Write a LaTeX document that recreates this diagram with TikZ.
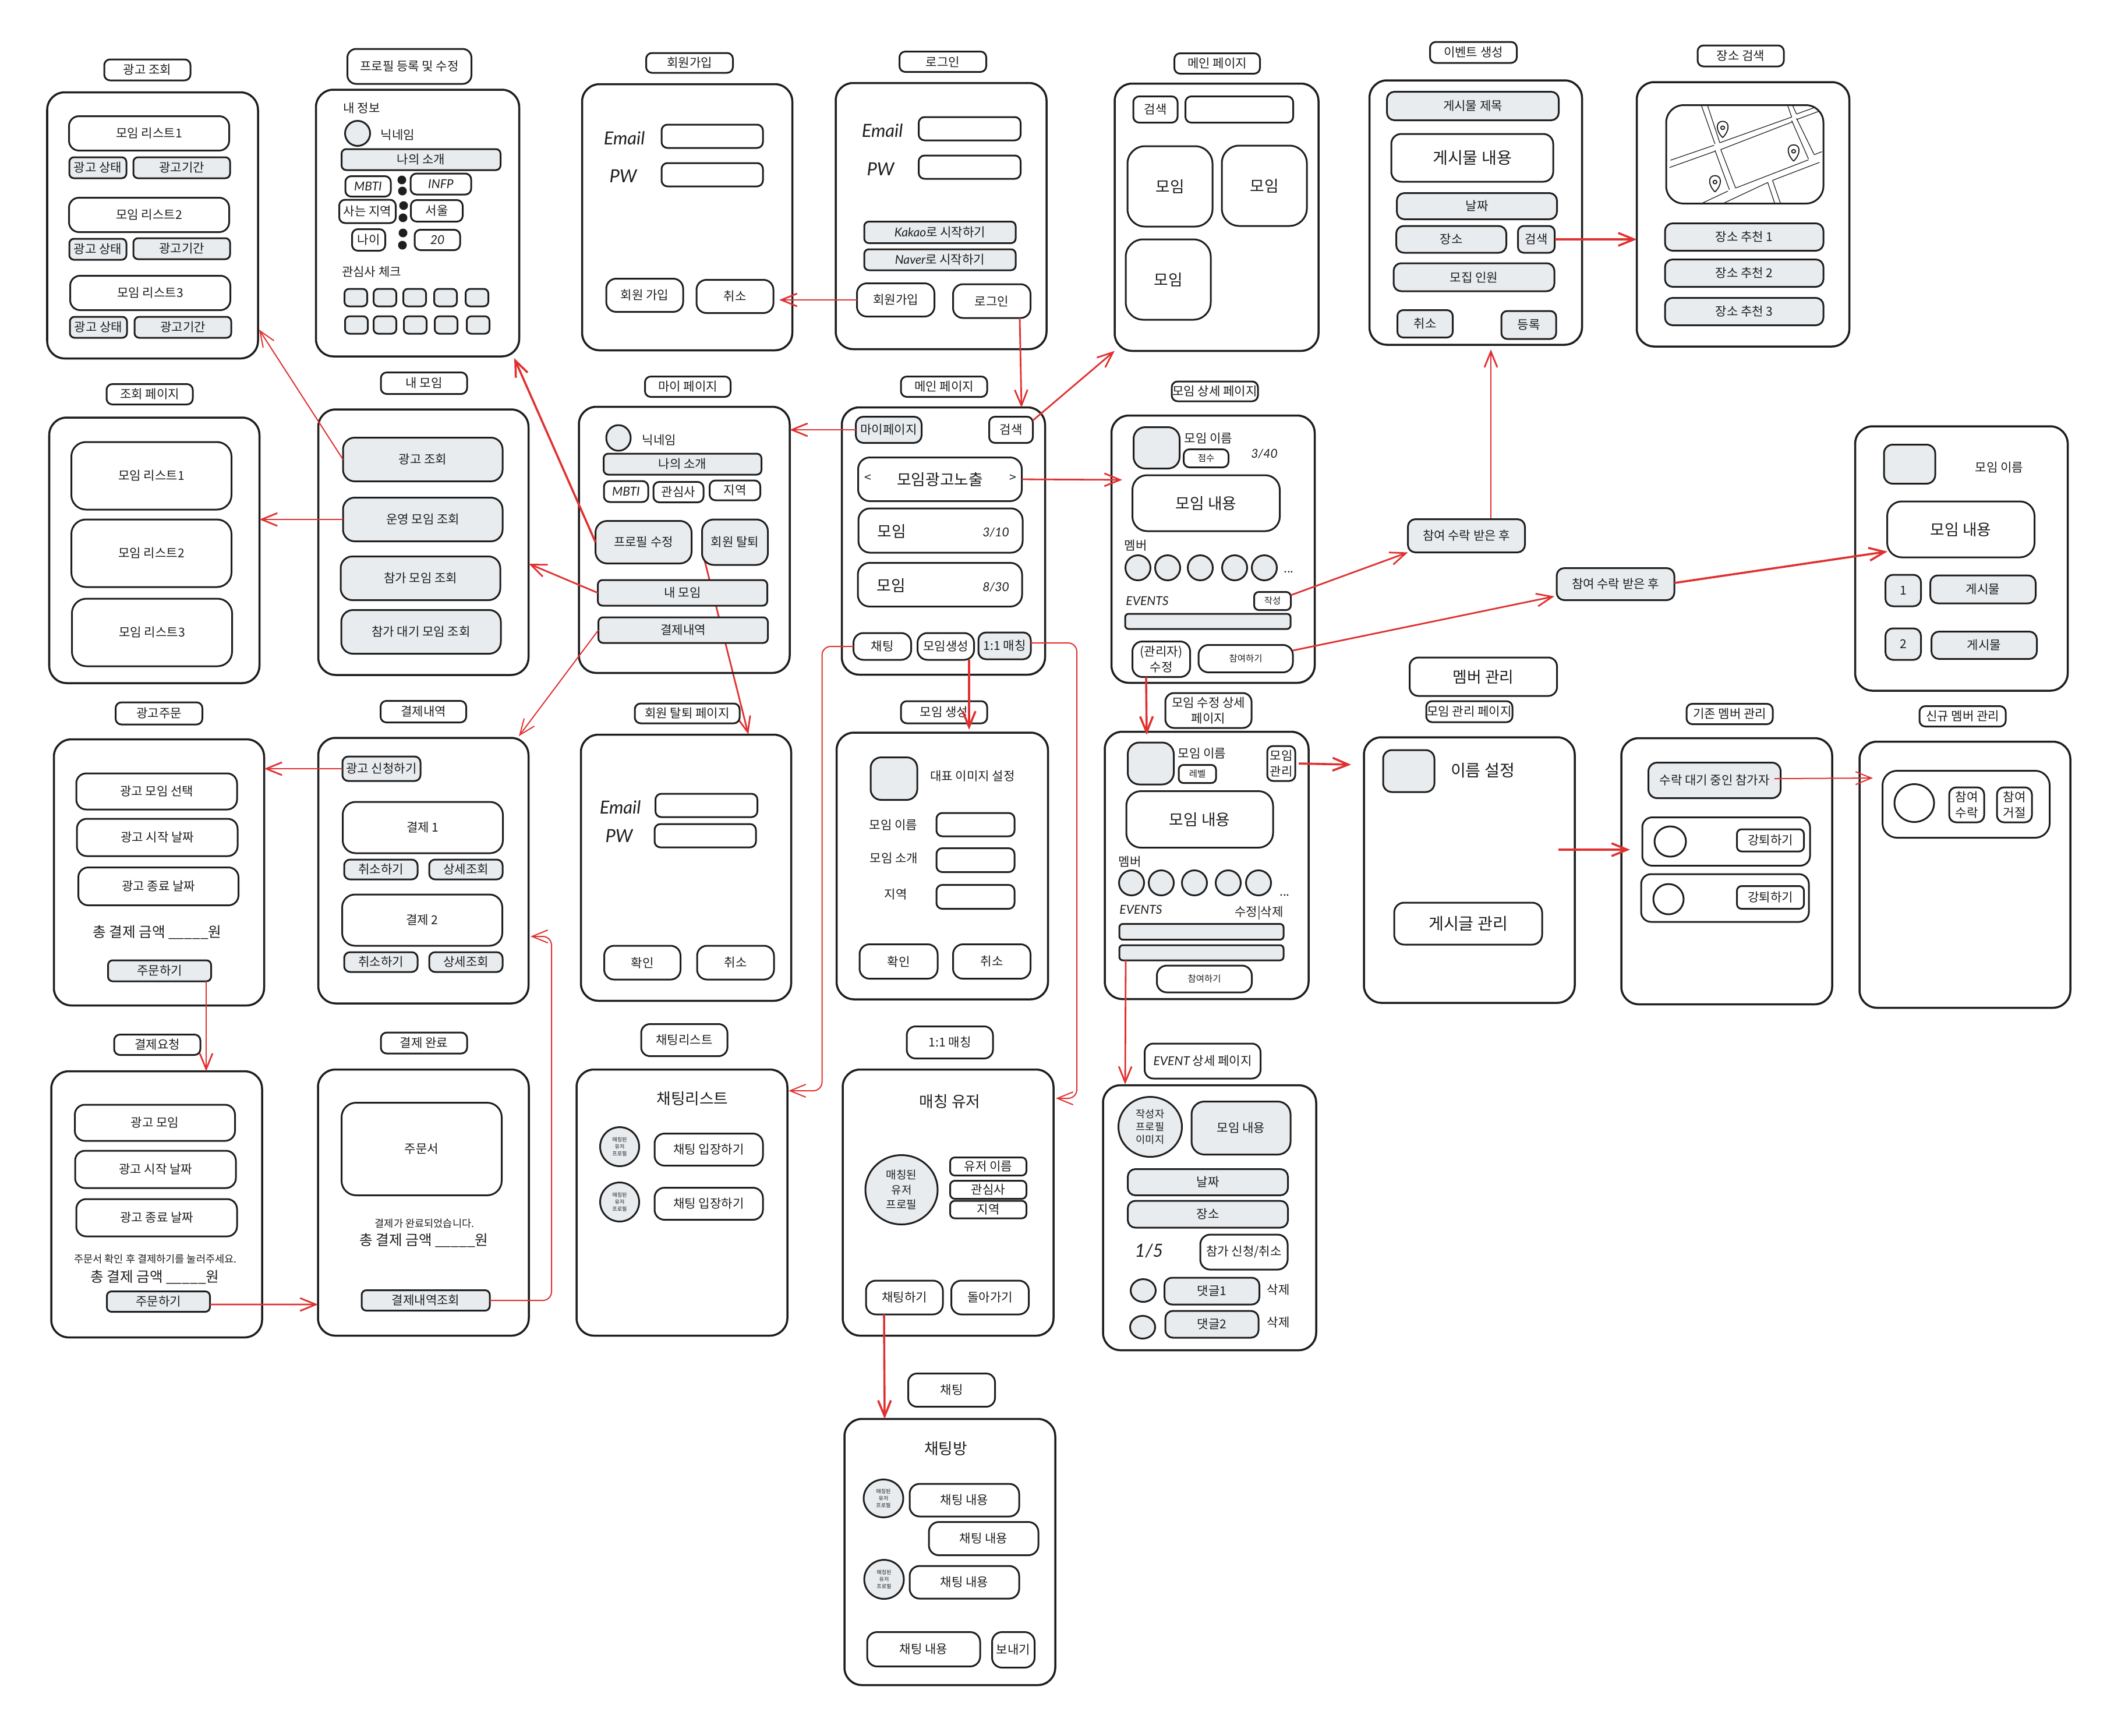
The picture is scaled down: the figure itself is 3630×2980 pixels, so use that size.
\documentclass[tikz,border=0pt]{standalone}
\usepackage{fontspec}
\setmainfont{Noto Sans CJK KR}
\newfontfamily\handfont{Lato}
\usepackage{tikz}
\usetikzlibrary{shapes.geometric,arrows.meta,backgrounds}
\definecolor{wireInk}{RGB}{30,30,30}
\definecolor{wireGray}{RGB}{233,236,239}
\definecolor{wireRed}{RGB}{224,49,49}
\newcommand{\hnd}[1]{{\handfont\itshape #1}}
\tikzset{
  sz/.style 2 args={minimum width=#1*0.01cm,minimum height=#2*0.01cm},
  base/.style={draw=wireInk,line width=0.03cm,inner sep=0pt,outer sep=0pt,align=center,text=wireInk},
  screen/.style={base,rounded corners=0.3cm,line width=0.035cm},
  tagbox/.style={base,fill=white,rounded corners=0.1cm},
  plainbtn/.style={base,fill=white,rounded corners=0.17cm},
  graybtn/.style={base,fill=wireGray,rounded corners=0.13cm},
  grayball/.style={base,ellipse,fill=wireGray},
  whiteball/.style={base,ellipse,fill=white},
  dotmark/.style={circle,fill=wireInk,inner sep=0pt,minimum size=0.15cm},
  lbl/.style={inner sep=0pt,text=wireInk,align=center},
  fsMicro/.style={font=\fontsize{2.6}{3.4}\selectfont},
  fsTiny/.style={font=\fontsize{4.4}{5.6}\selectfont},
  fsNote/.style={font=\fontsize{5}{6.2}\selectfont},
  fsSum/.style={font=\fontsize{7}{8.8}\selectfont},
  fsMid/.style={font=\fontsize{7.6}{9.4}\selectfont},
  fsBig/.style={font=\fontsize{8}{10}\selectfont},
  fsHand/.style={font=\fontsize{8.8}{10}\selectfont},
  link/.style={draw=wireRed,line width=0.028cm,-{Straight Barb[length=0.27cm,width=0.22cm]}},
  thinlink/.style={link,line width=0.02cm},
  heavylink/.style={link,line width=0.036cm},
}
\begin{document}
\begin{tikzpicture}[x=0.01cm,y=-0.01cm,font=\fontsize{6}{7.6}\selectfont]
\useasboundingbox (0,0) rectangle (3630,2980);
% Ad list
\node[tagbox,sz={148}{36}] (tagAd) at (253,120) {광고 조회};
\node[screen,sz={362}{457}] (frameAd) at (262,387) {};
\node[plainbtn,sz={275}{59}] (adItemA) at (256,229) {모임 리스트1};
\node[graybtn,rounded corners=0.08cm,sz={98}{36}] (adStateA) at (168,288) {광고 상태};
\node[graybtn,rounded corners=0.08cm,sz={166}{36}] (adTermA) at (312,288) {광고기간};
\node[plainbtn,sz={275}{59}] (adItemB) at (256,369) {모임 리스트2};
\node[graybtn,rounded corners=0.08cm,sz={98}{36}] (adStateB) at (168,428) {광고 상태};
\node[graybtn,rounded corners=0.08cm,sz={166}{36}] (adTermB) at (312,427) {광고기간};
\node[plainbtn,sz={275}{59}] (adItemC) at (258,503) {모임 리스트3};
\node[graybtn,rounded corners=0.08cm,sz={98}{36}] (adStateC) at (169,562) {광고 상태};
\node[graybtn,rounded corners=0.08cm,sz={166}{36}] (adTermC) at (314,562) {광고기간};
% Profile form
\node[tagbox,rounded corners=0.15cm,sz={213}{60}] (tagProfile) at (703,114) {프로필 등록 및 수정};
\node[screen,sz={349}{458}] (frameProfile) at (717,383) {};
\node[lbl] (profileHead) at (621,186) {내 정보};
\node[grayball,sz={43}{43}] (profileFace) at (614,229) {};
\node[lbl] (profileNick) at (683,232) {닉네임};
\node[graybtn,rounded corners=0.08cm,sz={273}{36}] (profileIntro) at (723,274) {나의 소개};
\node[plainbtn,rounded corners=0.1cm,sz={78}{35}] (keyMbti) at (632,320) {\hnd{MBTI}};
\node[plainbtn,rounded corners=0.1cm,sz={104}{36}] (valMbti) at (757,316) {\hnd{INFP}};
\node[plainbtn,rounded corners=0.1cm,sz={97}{40}] (keyArea) at (631,363) {사는 지역};
\node[plainbtn,rounded corners=0.1cm,sz={89}{37}] (valArea) at (750,362) {서울};
\node[plainbtn,rounded corners=0.1cm,sz={57}{37}] (keyAge) at (633,412) {나이};
\node[plainbtn,rounded corners=0.1cm,sz={78}{35}] (valAge) at (751,412) {\hnd{20}};
\foreach \i/\cx/\cy in {1/690/309,2/691/328,3/693/353,4/692/374,5/692/400,6/691/421}
  \node[dotmark] (colon\i) at (\cx,\cy) {};
\node[lbl] (profileCheck) at (638,467) {관심사 체크};
\foreach \i/\cx in {1/611,2/661,3/712,4/765,5/819}
  \node[graybtn,rounded corners=0.08cm,sz={39}{30}] (chkA\i) at (\cx,511) {};
\foreach \i/\cx in {1/612,2/661,3/713,4/766,5/821}
  \node[graybtn,rounded corners=0.08cm,sz={39}{30}] (chkB\i) at (\cx,558) {};
% Sign up
\node[tagbox,sz={149}{34}] (tagJoin) at (1184,108) {회원가입};
\node[screen,sz={361}{457}] (frameJoin) at (1180,373) {};
\node[lbl,fsHand] (joinMail) at (1072,237) {\hnd{Email}};
\node[lbl,fsHand] (joinPw) at (1070,302) {\hnd{PW}};
\node[plainbtn,rounded corners=0.1cm,sz={174}{40}] (joinInA) at (1223,234) {};
\node[plainbtn,rounded corners=0.1cm,sz={174}{40}] (joinInB) at (1223,300) {};
\node[plainbtn,sz={132}{57}] (joinOk) at (1107,507) {회원 가입};
\node[plainbtn,sz={132}{57}] (joinCancel) at (1262,509) {취소};
% Log in
\node[tagbox,sz={149}{35}] (tagLogin) at (1619,106) {로그인};
\node[screen,sz={362}{457}] (frameLogin) at (1616,371) {};
\node[lbl,fsHand] (loginMail) at (1515,224) {\hnd{Email}};
\node[lbl,fsHand] (loginPw) at (1512,290) {\hnd{PW}};
\node[plainbtn,rounded corners=0.1cm,sz={175}{40}] (loginInA) at (1665,221) {};
\node[plainbtn,rounded corners=0.1cm,sz={175}{40}] (loginInB) at (1665,287) {};
\node[graybtn,rounded corners=0.08cm,sz={260}{37}] (btnKakao) at (1614,399) {\hnd{Kakao}로 시작하기};
\node[graybtn,rounded corners=0.08cm,sz={260}{36}] (btnNaver) at (1614,446) {\hnd{Naver}로 시작하기};
\node[plainbtn,sz={133}{57}] (loginJoin) at (1538,515) {회원가입};
\node[plainbtn,sz={133}{58}] (loginGo) at (1703,517) {로그인};
% Search page
\node[tagbox,sz={147}{35}] (tagSearch) at (2090,109) {메인 페이지};
\node[screen,sz={350}{459}] (frameSearch) at (2089,373) {};
\node[plainbtn,rounded corners=0.1cm,sz={76}{45}] (searchGo) at (1984,188) {검색};
\node[plainbtn,rounded corners=0.1cm,sz={185}{45}] (searchIn) at (2128,188) {};
\node[plainbtn,fsMid,rounded corners=0.3cm,sz={146}{138}] (meetA) at (2009,320) {모임};
\node[plainbtn,fsMid,rounded corners=0.3cm,sz={146}{138}] (meetB) at (2171,319) {모임};
\node[plainbtn,fsMid,rounded corners=0.3cm,sz={146}{138}] (meetC) at (2006,480) {모임};
% Event create
\node[tagbox,sz={149}{36}] (tagEvent) at (2530,90) {이벤트 생성};
\node[screen,sz={365}{454}] (frameEvent) at (2534,365) {};
\node[graybtn,sz={295}{49}] (evTitle) at (2529,182) {게시물 제목};
\node[plainbtn,fsBig,sz={278}{82}] (evBody) at (2528,271) {게시물 내용};
\node[graybtn,sz={275}{45}] (evDate) at (2536,354) {날짜};
\node[graybtn,sz={189}{46}] (evPlace) at (2492,411) {장소};
\node[graybtn,rounded corners=0.1cm,sz={63}{46}] (evFind) at (2638,411) {검색};
\node[graybtn,sz={276}{48}] (evCount) at (2531,476) {모집 인원};
\node[graybtn,rounded corners=0.1cm,sz={95}{47}] (evCancel) at (2447,556) {취소};
\node[graybtn,rounded corners=0.1cm,sz={94}{48}] (evSave) at (2625,558) {등록};
% Place search
\node[tagbox,sz={148}{36}] (tagPlace) at (2989,96) {장소 검색};
\node[screen,sz={365}{454}] (framePlace) at (2993,368) {};
\node[plainbtn,rounded corners=0.3cm,sz={270}{169}] (mapView) at (2996,265) {};
\begin{scope}[shift={(2340,60)},x=0.008227cm,y=-0.007334cm,draw=wireInk,line width=0.012cm]
  \begin{scope}
    \clip[rounded corners=0.3cm] (mapView.south west) rectangle (mapView.north east);
    \draw (705,160) -- (735,255) (718,160) -- (745,252) (735,270) -- (765,362) (747,268) -- (778,358);
    \draw (845,345) -- (860,395) (855,340) -- (872,395) (885,160) -- (895,192) (895,160) -- (905,185);
    \draw (895,200) -- (930,290) (905,195) -- (942,280);
    \draw (642,293) -- (733,258) (640,310) -- (735,272) (745,252) -- (895,192) (747,268) -- (897,203);
    \draw (905,185) -- (947,168) (905,198) -- (960,175) (778,358) -- (930,292);
    \draw (750,395) -- (845,345) (855,340) -- (953,298) (705,395) -- (762,365) (942,280) -- (958,273);
  \end{scope}
  \foreach \px/\py in {751/220,899/275,735/347} {
    \draw[fill=white,line width=0.018cm] (\px,\py+20) .. controls (\px-16,\py+2) and (\px-14,\py-18) .. (\px,\py-18) .. controls (\px+14,\py-18) and (\px+16,\py+2) .. (\px,\py+20);
    \draw[line width=0.018cm] (\px,\py-3) circle (4);
  }
\end{scope}
\node[graybtn,sz={272}{47}] (placeA) at (2995,407) {장소 추천 1};
\node[graybtn,sz={272}{47}] (placeB) at (2995,469) {장소 추천 2};
\node[graybtn,sz={272}{47}] (placeC) at (2995,535) {장소 추천 3};
% Meeting views
\node[tagbox,sz={148}{35}] (tagView) at (257,677) {조회 페이지};
\node[screen,sz={361}{456}] (frameView) at (265,945) {};
\node[plainbtn,rounded corners=0.25cm,sz={275}{116}] (viewA) at (260,817) {모임 리스트1};
\node[plainbtn,rounded corners=0.25cm,sz={275}{116}] (viewB) at (260,950) {모임 리스트2};
\node[plainbtn,rounded corners=0.25cm,sz={275}{116}] (viewC) at (261,1086) {모임 리스트3};
% My meetings
\node[tagbox,sz={148}{37}] (tagMine) at (728,658) {내 모임};
\node[screen,sz={361}{456}] (frameMine) at (727,931) {};
\node[graybtn,rounded corners=0.2cm,sz={274}{75}] (mineAd) at (726,789) {광고 조회};
\node[graybtn,rounded corners=0.2cm,sz={274}{75}] (mineRun) at (726,892) {운영 모임 조회};
\node[graybtn,rounded corners=0.2cm,sz={274}{75}] (mineJoin) at (722,993) {참가 모임 조회};
\node[graybtn,rounded corners=0.2cm,sz={274}{75}] (mineWait) at (723,1085) {참가 대기 모임 조회};
% My page
\node[tagbox,sz={147}{35}] (tagMy) at (1181,664) {마이 페이지};
\node[screen,sz={362}{457}] (frameMy) at (1175,927) {};
\node[grayball,sz={42}{44}] (myFace) at (1062,752) {};
\node[lbl] (myNick) at (1132,756) {닉네임};
\node[graybtn,rounded corners=0.08cm,sz={271}{36}] (myIntro) at (1172,797) {나의 소개};
\node[plainbtn,rounded corners=0.1cm,sz={76}{36}] (myMbti) at (1075,844) {\hnd{MBTI}};
\node[plainbtn,rounded corners=0.1cm,sz={86}{35}] (myLike) at (1165,845) {관심사};
\node[plainbtn,rounded corners=0.1cm,sz={87}{34}] (myArea) at (1262,842) {지역};
\node[graybtn,rounded corners=0.2cm,sz={165}{73}] (myEdit) at (1105,931) {프로필 수정};
\node[graybtn,rounded corners=0.2cm,sz={113}{78}] (myQuit) at (1262,931) {회원 탈퇴};
\node[graybtn,rounded corners=0.08cm,sz={291}{44}] (myMeet) at (1172,1018) {내 모임};
\node[graybtn,rounded corners=0.08cm,sz={291}{44}] (myPay) at (1173,1082) {결제내역};
% Main page
\node[tagbox,sz={148}{35}] (tagMain) at (1621,664) {메인 페이지};
\node[screen,sz={349}{459}] (frameMain) at (1620,929) {};
\node[graybtn,sz={113}{45}] (mainMy) at (1526,738) {마이페이지};
\node[plainbtn,rounded corners=0.1cm,sz={75}{45}] (mainFind) at (1736,738) {검색};
\node[plainbtn,fsMid,rounded corners=0.2cm,sz={281}{75}] (mainAd) at (1614,823) {모임광고노출};
\node[lbl] (mainPrev) at (1490,821) {<};
\node[lbl] (mainNext) at (1739,821) {>};
\node[plainbtn,rounded corners=0.2cm,sz={282}{76}] (mainRowA) at (1615,911) {};
\node[lbl,fsMid] (mainRowAName) at (1531,912) {모임};
\node[lbl] (mainRowACount) at (1710,914) {\hnd{3/10}};
\node[plainbtn,rounded corners=0.2cm,sz={282}{75}] (mainRowB) at (1614,1004) {};
\node[lbl,fsMid] (mainRowBName) at (1530,1005) {모임};
\node[lbl] (mainRowBCount) at (1710,1008) {\hnd{8/30}};
\node[plainbtn,sz={99}{46}] (mainChat) at (1515,1110) {채팅};
\node[plainbtn,sz={97}{46}] (mainMake) at (1624,1110) {모임생성};
\node[graybtn,sz={90}{46}] (mainMatch) at (1725,1109) {1:1 매칭};
% Meeting detail
\node[tagbox,sz={148}{34}] (tagDetail) at (2086,672) {모임 상세 페이지};
\node[screen,sz={349}{459}] (frameDetail) at (2083,943) {};
\node[graybtn,rounded corners=0.2cm,sz={79}{71}] (detailImg) at (1986,769) {};
\node[lbl] (detailName) at (2075,753) {모임 이름};
\node[plainbtn,fsTiny,rounded corners=0.1cm,sz={77}{31}] (detailScore) at (2071,787) {점수};
\node[lbl] (detailCount) at (2171,779) {\hnd{3/40}};
\node[plainbtn,fsMid,rounded corners=0.25cm,sz={253}{96}] (detailBody) at (2071,864) {모임 내용};
\node[lbl] (detailMember) at (1950,937) {멤버};
\foreach \i/\cx in {1/1954,2/2005,3/2061,4/2120,5/2171}
  \node[grayball,sz={43}{43}] (detailFace\i) at (\cx,975) {};
\node[lbl] (detailMore) at (2213,982) {...};
\node[lbl] (detailEvents) at (1970,1032) {\hnd{EVENTS}};
\node[plainbtn,fsTiny,rounded corners=0.08cm,sz={63}{31}] (detailWrite) at (2185,1032) {작성};
\node[graybtn,rounded corners=0.06cm,sz={284}{26}] (detailBar) at (2074,1067) {};
\node[plainbtn,sz={99}{61}] (detailEdit) at (1994,1132) {(관리자)\\수정};
\node[plainbtn,fsTiny,sz={162}{47}] (detailJoin) at (2139,1131) {참여하기};
% Accepted states
\node[graybtn,sz={201}{57}] (acceptA) at (2518,920) {참여 수락 받은 후};
\node[graybtn,sz={202}{55}] (acceptB) at (2774,1003) {참여 수락 받은 후};
\node[tagbox,fsMid,rounded corners=0.15cm,sz={253}{66}] (tagMember) at (2547,1162) {멤버 관리};
% Member view
\node[screen,sz={365}{454}] (frameBoard) at (3368,959) {};
\node[graybtn,rounded corners=0.15cm,sz={88}{67}] (boardImg) at (3279,797) {};
\node[lbl] (boardName) at (3433,803) {모임 이름};
\node[plainbtn,fsMid,rounded corners=0.25cm,sz={253}{96}] (boardBody) at (3367,909) {모임 내용};
\node[graybtn,sz={61}{54}] (boardNoA) at (3268,1014) {1};
\node[graybtn,sz={181}{48}] (boardPostA) at (3405,1012) {게시물};
\node[graybtn,sz={61}{54}] (boardNoB) at (3268,1106) {2};
\node[graybtn,sz={181}{47}] (boardPostB) at (3407,1108) {게시물};
% Ad order
\node[tagbox,sz={149}{38}] (tagOrder) at (273,1225) {광고주문};
\node[screen,sz={361}{457}] (frameOrder) at (273,1498) {};
\node[plainbtn,sz={276}{62}] (orderPick) at (269,1359) {광고 모임 선택};
\node[plainbtn,sz={276}{64}] (orderFrom) at (270,1438) {광고 시작 날짜};
\node[plainbtn,sz={275}{65}] (orderTo) at (272,1522) {광고 종료 날짜};
\node[lbl,fsSum] (orderSum) at (270,1601) {총 결제 금액 \_\_\_\_\_원};
\node[graybtn,rounded corners=0.08cm,sz={177}{36}] (orderGo) at (274,1667) {주문하기};
% Payment history
\node[tagbox,sz={147}{37}] (tagPay) at (727,1222) {결제내역};
\node[screen,sz={361}{456}] (framePay) at (727,1495) {};
\node[graybtn,rounded corners=0.1cm,sz={134}{42}] (payApply) at (655,1320) {광고 신청하기};
\node[plainbtn,rounded corners=0.22cm,sz={275}{88}] (payA) at (726,1421) {결제 1};
\node[graybtn,rounded corners=0.1cm,sz={126}{34}] (payCancelA) at (654,1493) {취소하기};
\node[graybtn,rounded corners=0.1cm,sz={126}{34}] (payInfoA) at (800,1493) {상세조회};
\node[plainbtn,rounded corners=0.22cm,sz={275}{88}] (payB) at (725,1580) {결제 2};
\node[graybtn,rounded corners=0.1cm,sz={126}{34}] (payCancelB) at (654,1652) {취소하기};
\node[graybtn,rounded corners=0.1cm,sz={126}{34}] (payInfoB) at (800,1652) {상세조회};
% Leave page
\node[tagbox,sz={180}{34}] (tagLeave) at (1180,1225) {회원 탈퇴 페이지};
\node[screen,sz={361}{457}] (frameLeave) at (1178,1490) {};
\node[lbl,fsHand] (leaveMail) at (1065,1386) {\hnd{Email}};
\node[lbl,fsHand] (leavePw) at (1063,1435) {\hnd{PW}};
\node[plainbtn,rounded corners=0.1cm,sz={175}{40}] (leaveInA) at (1213,1383) {};
\node[plainbtn,rounded corners=0.1cm,sz={174}{40}] (leaveInB) at (1211,1435) {};
\node[plainbtn,sz={131}{58}] (leaveOk) at (1103,1653) {확인};
\node[plainbtn,sz={132}{58}] (leaveCancel) at (1263,1653) {취소};
% Meeting create
\node[tagbox,sz={148}{38}] (tagMake) at (1621,1223) {모임 생성};
\node[screen,sz={363}{458}] (frameMake) at (1618,1487) {};
\node[graybtn,rounded corners=0.18cm,sz={80}{73}] (makeImg) at (1535,1337) {};
\node[lbl] (makeImgText) at (1670,1333) {대표 이미지 설정};
\node[lbl] (makeName) at (1534,1417) {모임 이름};
\node[plainbtn,rounded corners=0.1cm,sz={134}{40}] (makeNameIn) at (1675,1416) {};
\node[lbl] (makeIntro) at (1535,1474) {모임 소개};
\node[plainbtn,rounded corners=0.1cm,sz={134}{41}] (makeIntroIn) at (1675,1477) {};
\node[lbl] (makeArea) at (1538,1536) {지역};
\node[plainbtn,rounded corners=0.1cm,sz={134}{41}] (makeAreaIn) at (1675,1540) {};
\node[plainbtn,sz={134}{59}] (makeOk) at (1543,1651) {확인};
\node[plainbtn,sz={133}{59}] (makeCancel) at (1703,1651) {취소};
% Meeting edit
\node[tagbox,rounded corners=0.15cm,sz={148}{60}] (tagEdit) at (2075,1220) {모임 수정 상세\\페이지};
\node[screen,sz={350}{459}] (frameEdit) at (2072,1486) {};
\node[graybtn,rounded corners=0.2cm,sz={79}{72}] (editImg) at (1976,1311) {};
\node[lbl] (editName) at (2064,1294) {모임 이름};
\node[plainbtn,fsTiny,rounded corners=0.08cm,sz={64}{31}] (editLevel) at (2056,1329) {레벨};
\node[plainbtn,rounded corners=0.1cm,sz={48}{60}] (editManage) at (2200,1311) {모임\\관리};
\node[plainbtn,fsMid,rounded corners=0.25cm,sz={252}{97}] (editBody) at (2060,1407) {모임 내용};
\node[lbl] (editMember) at (1940,1480) {멤버};
\foreach \i/\cx in {1/1943,2/1994,3/2051,4/2109,5/2161}
  \node[grayball,sz={43}{43}] (editFace\i) at (\cx,1516) {};
\node[lbl] (editMore) at (2206,1537) {...};
\node[lbl] (editEvents) at (1959,1562) {\hnd{EVENTS}};
\node[lbl] (editTools) at (2162,1568) {수정|삭제};
\node[graybtn,rounded corners=0.06cm,sz={282}{27}] (editBarA) at (2063,1600) {};
\node[graybtn,rounded corners=0.06cm,sz={282}{26}] (editBarB) at (2063,1636) {};
\node[plainbtn,fsTiny,sz={163}{46}] (editJoin) at (2068,1681) {참여하기};
% Manage page
\node[tagbox,sz={148}{36}] (tagManage) at (2523,1222) {모임 관리 페이지};
\node[screen,sz={362}{456}] (frameManage) at (2523,1494) {};
\node[graybtn,rounded corners=0.15cm,sz={88}{72}] (manageImg) at (2419,1324) {};
\node[lbl,fsBig] (manageName) at (2546,1323) {이름 설정};
\node[plainbtn,fsBig,sz={254}{72}] (managePost) at (2521,1586) {게시글 관리};
% Current members
\node[tagbox,sz={148}{35}] (tagOld) at (2970,1226) {기존 멤버 관리};
\node[screen,sz={362}{457}] (frameOld) at (2965,1496) {};
\node[graybtn,rounded corners=0.15cm,sz={227}{61}] (oldWait) at (2944,1340) {수락 대기 중인 참가자};
\node[plainbtn,sz={288}{83}] (oldRowA) at (2964,1445) {};
\node[whiteball,sz={54}{52}] (oldFaceA) at (2868,1445) {};
\node[plainbtn,rounded corners=0.08cm,sz={115}{38}] (oldKickA) at (3040,1443) {강퇴하기};
\node[plainbtn,sz={288}{82}] (oldRowB) at (2962,1542) {};
\node[whiteball,sz={52}{52}] (oldFaceB) at (2865,1544) {};
\node[plainbtn,rounded corners=0.08cm,sz={115}{39}] (oldKickB) at (3040,1541) {강퇴하기};
% New members
\node[tagbox,sz={148}{35}] (tagNew) at (3370,1230) {신규 멤버 관리};
\node[screen,sz={362}{457}] (frameNew) at (3374,1502) {};
\node[plainbtn,rounded corners=0.25cm,sz={287}{115}] (newRow) at (3376,1381) {};
\node[whiteball,sz={68}{65}] (newFace) at (3287,1379) {};
\node[plainbtn,rounded corners=0.12cm,sz={60}{60}] (newYes) at (3377,1382) {참여\\수락};
\node[plainbtn,rounded corners=0.12cm,sz={60}{60}] (newNo) at (3459,1382) {참여\\거절};
% Payment request
\node[tagbox,sz={148}{35}] (tagAsk) at (270,1794) {결제요청};
\node[screen,sz={362}{457}] (frameAsk) at (269,2068) {};
\node[plainbtn,sz={275}{62}] (askPick) at (266,1928) {광고 모임};
\node[plainbtn,sz={276}{64}] (askFrom) at (267,2008) {광고 시작 날짜};
\node[plainbtn,sz={276}{64}] (askTo) at (269,2091) {광고 종료 날짜};
\node[lbl,fsNote] (askNote) at (267,2162) {주문서 확인 후 결제하기를 눌러주세요.};
\node[lbl,fsSum] (askSum) at (266,2193) {총 결제 금액 \_\_\_\_\_원};
\node[graybtn,rounded corners=0.08cm,sz={177}{35}] (askGo) at (272,2235) {주문하기};
% Payment done
\node[tagbox,sz={148}{36}] (tagDone) at (728,1791) {결제 완료};
\node[screen,sz={362}{457}] (frameDone) at (727,2065) {};
\node[plainbtn,rounded corners=0.25cm,sz={275}{159}] (doneSheet) at (724,1973) {주문서};
\node[lbl,fsNote] (doneNote) at (729,2101) {결제가 완료되었습니다.};
\node[lbl,fsSum] (doneSum) at (728,2130) {총 결제 금액 \_\_\_\_\_원};
\node[graybtn,rounded corners=0.08cm,sz={220}{35}] (doneList) at (731,2233) {결제내역조회};
% Chat list
\node[tagbox,rounded corners=0.15cm,sz={148}{55}] (tagChats) at (1175,1786) {채팅리스트};
\node[screen,sz={362}{457}] (frameChats) at (1171,2065) {};
\node[lbl,fsMid] (chatsHead) at (1189,1886) {채팅리스트};
\node[grayball,fsMicro,sz={67}{67}] (chatsFaceA) at (1064,1969) {매칭된\\유저\\프로필};
\node[plainbtn,sz={186}{55}] (chatsGoA) at (1217,1974) {채팅 입장하기};
\node[grayball,fsMicro,sz={67}{67}] (chatsFaceB) at (1064,2064) {매칭된\\유저\\프로필};
\node[plainbtn,sz={186}{55}] (chatsGoB) at (1217,2067) {채팅 입장하기};
% Matching
\node[tagbox,rounded corners=0.15cm,sz={148}{55}] (tagMatch) at (1631,1790) {1:1 매칭};
\node[screen,sz={362}{457}] (frameMatch) at (1628,2065) {};
\node[lbl,fsMid] (matchHead) at (1631,1891) {매칭 유저};
\node[grayball,font=\fontsize{5.4}{7.2}\selectfont,sz={124}{119}] (matchFace) at (1548,2043) {매칭된\\유저\\프로필};
\node[plainbtn,rounded corners=0.08cm,sz={131}{31}] (matchName) at (1697,2003) {유저 이름};
\node[plainbtn,rounded corners=0.08cm,sz={131}{31}] (matchLike) at (1697,2043) {관심사};
\node[plainbtn,rounded corners=0.08cm,sz={131}{30}] (matchArea) at (1697,2077) {지역};
\node[plainbtn,sz={132}{58}] (matchChat) at (1553,2228) {채팅하기};
\node[plainbtn,sz={133}{58}] (matchBack) at (1700,2228) {돌아가기};
% Event detail
\node[tagbox,rounded corners=0.15cm,sz={199}{60}] (tagShow) at (2065,1822) {\hnd{EVENT} 상세 페이지};
\node[screen,sz={366}{455}] (frameShow) at (2077,2091) {};
\node[grayball,fsNote,sz={109}{103}] (showFace) at (1975,1935) {작성자\\프로필\\이미지};
\node[graybtn,rounded corners=0.22cm,sz={170}{91}] (showBody) at (2131,1937) {모임 내용};
\node[graybtn,sz={275}{45}] (showDate) at (2074,2030) {날짜};
\node[graybtn,sz={275}{46}] (showPlace) at (2074,2085) {장소};
\node[lbl,fsHand] (showCount) at (1973,2148) {\hnd{1/5}};
\node[plainbtn,sz={150}{60}] (showApply) at (2136,2150) {참가 신청/취소};
\node[grayball,sz={43}{39}] (showFaceA) at (1963,2216) {};
\node[graybtn,sz={163}{46}] (showNoteA) at (2081,2217) {댓글1};
\node[lbl] (showDelA) at (2195,2215) {삭제};
\node[grayball,sz={43}{39}] (showFaceB) at (1962,2279) {};
\node[graybtn,sz={160}{46}] (showNoteB) at (2081,2274) {댓글2};
\node[lbl] (showDelB) at (2195,2271) {삭제};
% Chat room
\node[tagbox,rounded corners=0.15cm,sz={149}{57}] (tagRoom) at (1634,2387) {채팅};
\node[screen,sz={362}{457}] (frameRoom) at (1631,2665) {};
\node[lbl,fsMid] (roomHead) at (1624,2487) {채팅방};
\node[grayball,fsMicro,sz={68}{65}] (roomFaceA) at (1517,2573) {매칭된\\유저\\프로필};
\node[plainbtn,sz={188}{56}] (roomMsgA) at (1656,2576) {채팅 내용};
\node[plainbtn,sz={188}{57}] (roomMsgB) at (1689,2642) {채팅 내용};
\node[grayball,fsMicro,sz={68}{67}] (roomFaceB) at (1518,2712) {매칭된\\유저\\프로필};
\node[plainbtn,sz={188}{56}] (roomMsgC) at (1656,2717) {채팅 내용};
\node[plainbtn,sz={194}{59}] (roomInput) at (1586,2832) {채팅 내용};
\node[plainbtn,sz={73}{61}] (roomSend) at (1740,2833) {보내기};
% Free arrow ends
\coordinate (endAd) at (445,566);
\coordinate (endProfile) at (883,615);
\coordinate (endMine) at (908,968);
\coordinate (endPayTop) at (891,1264);
\coordinate (endLeave) at (1285,1261);
\coordinate (endMainTop) at (1754,700);
\coordinate (endDetail) at (1927,824);
\coordinate (endAcceptB) at (2669,1024);
\coordinate (endEventUp) at (2560,600);
\coordinate (startEventUp) at (2560,890);
\coordinate (startBoard) at (2875,1001);
\coordinate (endBoard) at (3241,947);
\coordinate (endChats) at (1354,1873);
\coordinate (endMatch) at (1813,1886);
\coordinate (endMake) at (1664,1253);
\coordinate (endEdit) at (1969,1262);
\coordinate (endManage) at (2320,1313);
\coordinate (startOld) at (2676,1459);
\coordinate (endOld) at (2799,1459);
\coordinate (startNew) at (3047,1337);
\coordinate (endNew) at (3216,1336);
\coordinate (endShow) at (1932,1862);
\coordinate (endPayBack) at (911,1608);
% Arrows
\begin{scope}[on background layer]
  \draw[link] (myQuit.west) ++(0,14) -- (endLeave);
\end{scope}
\draw[thinlink] (mineAd.west) -- (endAd);
\draw[link] (mineRun.west) -- (frameView.east |- mineRun.west);
\draw[link] (myMeet.west) -- (endMine);
\draw[heavylink] (myEdit.west) -- (endProfile);
\draw[thinlink] (myPay.west) -- (endPayTop);
\draw[link] (mainMy.west) -- (frameMy.east |- mainMy.west);
\draw[link] (loginJoin.west) -- ([xshift=0.1cm]joinCancel.east |- loginJoin.west);
\draw[link] ([xshift=48*0.01cm]loginGo.south) -- (endMainTop);
\draw[link] ([yshift=0.16cm]mainFind.east) -- (frameSearch.south west);
\draw[link] (mainAd.east) -- (endDetail);
\draw[link] ([yshift=0.1cm]detailWrite.east) -- (acceptA.south west);
\draw[link] ([yshift=0.14cm]detailJoin.east) -- (endAcceptB);
\draw[link] (startEventUp) -- (endEventUp);
\draw[heavylink] (evFind.east) -- (framePlace.west |- evFind.east);
\draw[heavylink] (startBoard) -- (endBoard);
\draw[thinlink,rounded corners=0.15cm] (mainChat.west) -- ++(-54,0) |- (endChats);
\draw[thinlink,rounded corners=0.15cm] ([yshift=0.05cm]mainMatch.east) -- (1849,1104) |- (endMatch);
\draw[heavylink] ([xshift=40*0.01cm]mainMake.south) -- (endMake);
\draw[heavylink] ([xshift=-26*0.01cm]detailEdit.south) -- (endEdit);
\draw[heavylink] ([xshift=0.06cm]editManage.east) -- (endManage);
\draw[heavylink] (startOld) -- (endOld);
\draw[thinlink] (startNew) -- (endNew);
\draw[link] (editBarB.south west) ++(11,0) -- (endShow);
\draw[link] (payApply.west) -- (frameOrder.east |- payApply.west);
\draw[link] ([xshift=80*0.01cm]orderGo.south) -- (frameAsk.north -| 354,0);
\draw[link] ([yshift=-0.05cm]askGo.east) -- (frameDone.west |- 0,2240);
\draw[thinlink,rounded corners=0.15cm] (doneList.east) -- (947,2233) |- (endPayBack);
\draw[heavylink] ([xshift=-35*0.01cm]matchChat.south) -- (frameRoom.north -| 1519,0);
\end{tikzpicture}
\end{document}
